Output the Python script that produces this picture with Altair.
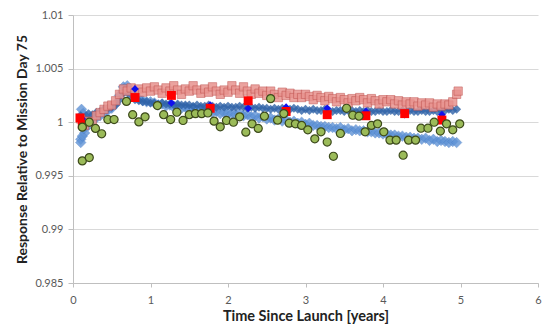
import altair as alt
import pandas as pd

# ---- data ----
t_dense = [round(0.10 + 0.05 * i, 2) for i in range(98)]

light_blue = [
    0.9984, 0.9990, 0.9997, 1.0002, 1.0004, 1.0006, 1.0009, 1.0011, 1.0013, 1.0017,
    1.0025, 1.0033, 1.0034, 1.0029, 1.0024, 1.0022, 1.0020, 1.0019, 1.0019, 1.0018,
    1.0016, 1.0017, 1.0015, 1.0016, 1.0014, 1.0015, 1.0013, 1.0014, 1.0012, 1.0013,
    1.0011, 1.0012, 1.0010, 1.0011, 1.0009, 1.0010, 1.0008, 1.0009, 1.0008, 1.0008,
    1.0007, 1.0008, 1.0006, 1.0007, 1.0005, 1.0006, 1.0004, 1.0005, 1.0003, 1.0004,
    1.0002, 1.0003, 1.0001, 1.0002, 1.0000, 1.0001, 0.9999, 1.0000, 0.9998, 0.9999,
    0.9997, 0.9997, 0.9996, 0.9996, 0.9995, 0.9995, 0.9994, 0.9995, 0.9993, 0.9994,
    0.9992, 0.9993, 0.9992, 0.9992, 0.9991, 0.9991, 0.9990, 0.9990, 0.9989, 0.9989,
    0.9988, 0.9988, 0.9987, 0.9987, 0.9986, 0.9986, 0.9985, 0.9985, 0.9984, 0.9985,
    0.9983, 0.9984, 0.9982, 0.9983, 0.9982, 0.9981, 0.9982, 0.9981,
]
# extra early light-blue points (wide spread right after launch)
lb_early_t = [0.10, 0.11, 0.12, 0.13, 0.14, 0.16]
lb_early_v = [0.9981, 1.0012, 0.9987, 1.0008, 0.9994, 1.0005]

dark_blue = [
    1.0006, 1.0004, 1.0008, 1.0007, 1.0009, 1.0010, 1.0012, 1.0013, 1.0014, 1.0016,
    1.0021, 1.0027, 1.0028, 1.0024, 1.0021, 1.0020, 1.0019, 1.0019, 1.0018, 1.0018,
    1.0017, 1.0018, 1.0017, 1.0017, 1.0016, 1.0017, 1.0016, 1.0016, 1.0016, 1.0015,
    1.0016, 1.0015, 1.0015, 1.0016, 1.0015, 1.0014, 1.0015, 1.0014, 1.0015, 1.0014,
    1.0014, 1.0015, 1.0014, 1.0013, 1.0014, 1.0013, 1.0014, 1.0013, 1.0013, 1.0012,
    1.0013, 1.0012, 1.0013, 1.0012, 1.0012, 1.0013, 1.0012, 1.0011, 1.0012, 1.0011,
    1.0012, 1.0011, 1.0011, 1.0012, 1.0011, 1.0010, 1.0011, 1.0011, 1.0010, 1.0011,
    1.0011, 1.0010, 1.0011, 1.0010, 1.0011, 1.0010, 1.0010, 1.0011, 1.0010, 1.0010,
    1.0011, 1.0010, 1.0010, 1.0011, 1.0010, 1.0011, 1.0010, 1.0010, 1.0011, 1.0010,
    1.0010, 1.0011, 1.0010, 1.0011, 1.0011, 1.0012, 1.0011, 1.0012,
]

salmon = [
    1.0003, 0.9997, 1.0001, 1.0000, 1.0006, 1.0009, 1.0012, 1.0015, 1.0016, 1.0020,
    1.0026, 1.0031, 1.0029, 1.0032, 1.0027, 1.0031, 1.0028, 1.0032, 1.0029, 1.0033,
    1.0030, 1.0027, 1.0032, 1.0029, 1.0034, 1.0030, 1.0026, 1.0031, 1.0029, 1.0034,
    1.0030, 1.0027, 1.0031, 1.0028, 1.0033, 1.0029, 1.0026, 1.0030, 1.0028, 1.0034,
    1.0030, 1.0027, 1.0033, 1.0029, 1.0026, 1.0031, 1.0027, 1.0029, 1.0025, 1.0029,
    1.0026, 1.0023, 1.0028, 1.0025, 1.0027, 1.0023, 1.0026, 1.0023, 1.0026, 1.0024,
    1.0021, 1.0025, 1.0023, 1.0020, 1.0024, 1.0022, 1.0019, 1.0023, 1.0021, 1.0018,
    1.0022, 1.0020, 1.0023, 1.0021, 1.0018, 1.0022, 1.0020, 1.0017, 1.0021, 1.0019,
    1.0021, 1.0017, 1.0020, 1.0016, 1.0019, 1.0017, 1.0019, 1.0015, 1.0018, 1.0016,
    1.0018, 1.0014, 1.0017, 1.0015, 1.0017, 1.0016, 1.0019, 1.0026,
]
sa_extra_t = [4.97]
sa_extra_v = [1.0029]

red_t = [0.09, 0.12, 0.80, 1.27, 1.77, 2.26, 2.75, 3.28, 3.78, 4.28, 4.76]
red_v = [1.0004, 0.9998, 1.0023, 1.0025, 1.0013, 1.0020, 1.0010, 1.0007, 1.0006, 1.0008, 1.0002]

blue_t = [0.12, 0.80, 1.27, 1.77, 2.26, 2.75, 3.28, 3.78, 4.28, 4.76]
blue_v = [1.0003, 1.0031, 1.0018, 1.0016, 1.0013, 1.0014, 1.0013, 1.0010, 1.0007, 1.0007]

green_t = [0.12, 0.21, 0.12, 0.21, 0.29, 0.37, 0.45, 0.53, 0.69, 0.77, 0.85, 0.93,
           1.09, 1.17, 1.26, 1.34, 1.42, 1.50, 1.58, 1.66, 1.74, 1.82, 1.90, 1.98,
           2.07, 2.15, 2.23, 2.31, 2.39, 2.47, 2.55, 2.64, 2.72, 2.79, 2.87, 2.95,
           3.03, 3.12, 3.20, 3.28, 3.36, 3.45, 3.53, 3.61, 3.69, 3.77, 3.85, 3.93,
           4.01, 4.09, 4.17, 4.26, 4.33, 4.42, 4.49, 4.58, 4.66, 4.74, 4.82, 4.90, 4.99]
green_v = [0.99954, 1.0000, 0.99639, 0.9967, 0.99942, 0.99892, 1.00025, 1.00025, 1.00194, 1.0007,
           1.00003, 1.0005, 1.00155, 1.0007, 1.00025, 1.00093, 1.00016, 1.0007, 1.0008, 1.0008,
           1.00086, 1.0001, 0.99957, 1.00016, 1.0000, 1.0005, 0.99907, 0.99985, 0.99942, 1.00056,
           1.0022, 1.00019, 1.0008, 0.99991, 0.99985, 0.9997, 0.99929, 0.99845, 0.9991, 0.99815,
           0.99682, 0.99895, 1.0013, 1.00065, 1.00056, 0.9991, 0.9997, 0.99985, 0.9991, 0.99833,
           0.99833, 0.99692, 0.99833, 0.99833, 0.99944, 0.99944, 1.0000, 0.99917, 0.99985, 0.99929,
           0.99985]

y_ticks = [0.985, 0.99, 0.995, 1.0, 1.005, 1.01]
x_ticks = [0, 1, 2, 3, 4, 5, 6]

# ---- tables ----
df_lb = pd.DataFrame({"t": t_dense + lb_early_t, "v": light_blue + lb_early_v})
df_db = pd.DataFrame({"t": t_dense, "v": dark_blue})
df_sa = pd.DataFrame({"t": t_dense + sa_extra_t, "v": salmon + sa_extra_v})
df_red = pd.DataFrame({"t": red_t, "v": red_v})
df_blue = pd.DataFrame({"t": blue_t, "v": blue_v})
df_green = pd.DataFrame({"t": green_t, "v": green_v})

FONT = "Lato"

x_enc = alt.X("t:Q", scale=alt.Scale(domain=[0, 6], nice=False),
              axis=alt.Axis(values=x_ticks, format="d", title="Time Since Launch [years]",
                            grid=False, labelFlush=False, titleFontSize=14.5,
                            tickSize=4, labelPadding=7, titlePadding=4))
y_enc = alt.Y("v:Q", scale=alt.Scale(domain=[0.985, 1.01], nice=False, zero=False),
              axis=alt.Axis(values=y_ticks, format=".3~f", labelFlush=False,
                            title="Response Relative to Mission Day 75", titleFontSize=14,
                            tickSize=5, labelPadding=5, titlePadding=5))

lb = alt.Chart(df_lb).mark_point(shape="diamond", filled=True, size=110, color="#5f93d6",
                                 opacity=0.8, stroke="#4a7fc6", strokeWidth=0.5).encode(x=x_enc, y=y_enc)
db = alt.Chart(df_db).mark_point(shape="diamond", filled=True, size=80, color="#2f63a8",
                                 opacity=0.8).encode(x="t:Q", y="v:Q")
sa = alt.Chart(df_sa).mark_point(shape="square", filled=True, size=70, fill="#e8938f",
                                 stroke="#c0504d", strokeWidth=0.6, opacity=0.85).encode(x="t:Q", y="v:Q")
bl = alt.Chart(df_blue).mark_point(shape="diamond", filled=True, size=60, color="#1010ee",
                                   opacity=1).encode(x="t:Q", y="v:Q")
rd = alt.Chart(df_red).mark_point(shape="square", filled=True, size=80, color="#ff0000",
                                  opacity=1).encode(x="t:Q", y="v:Q")
gr = alt.Chart(df_green).mark_point(shape="circle", filled=True, size=65, fill="#9bbb59",
                                    stroke="#3d4a1c", strokeWidth=1.2, opacity=1).encode(x="t:Q", y="v:Q")

chart = alt.layer(lb, db, sa, bl, rd, gr).properties(
    width=465, height=268,
    autosize=alt.AutoSizeParams(type="none"),
    padding={"left": 65, "top": 7, "right": 5, "bottom": 42},
).configure_view(stroke=None).configure_axis(
    labelFont=FONT, labelFontSize=11, labelColor="#595959",
    titleFont=FONT, titleFontWeight="bold", titleColor="#222222",
    domainColor="#bfbfbf", tickColor="#bfbfbf", gridColor="#d9d9d9", gridWidth=1,
)

chart.save("out.html", embed_options={"renderer": "svg", "actions": False})
